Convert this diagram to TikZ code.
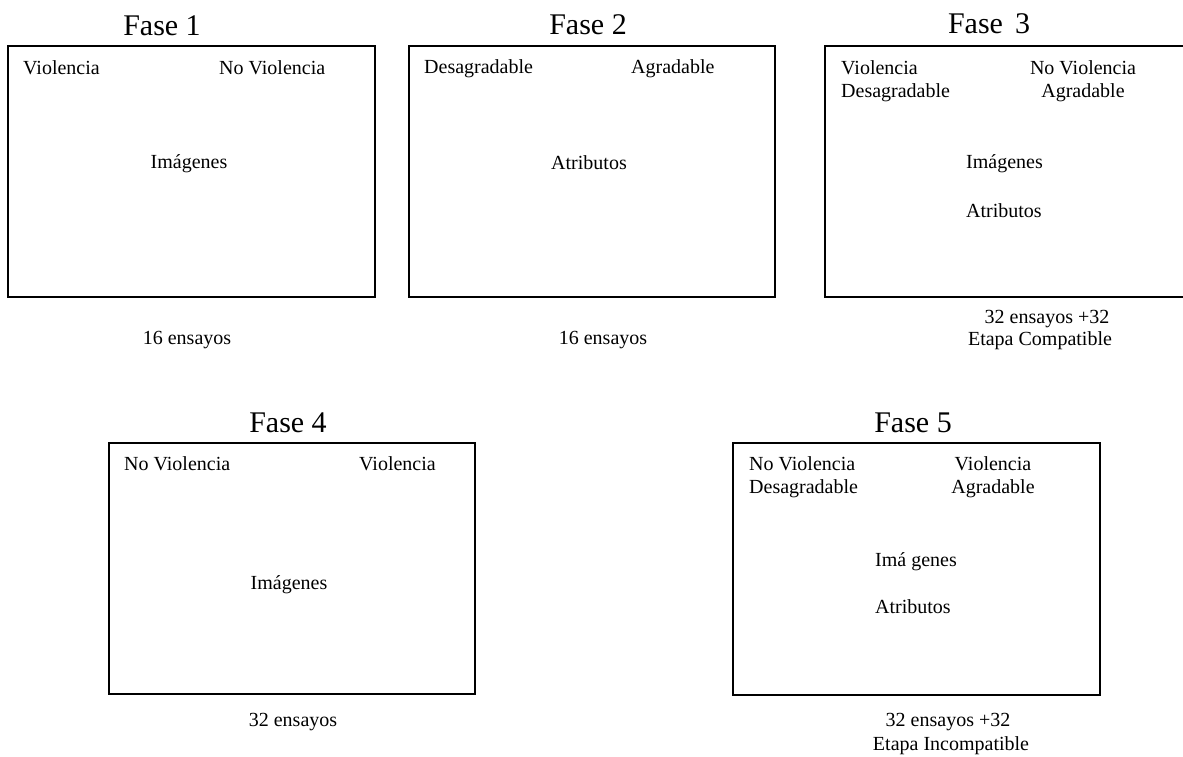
\documentclass[tikz,border=0pt]{standalone}
\usepackage{fontspec}
\setmainfont{Liberation Serif}
\begin{document}
\begin{tikzpicture}[x=1pt,y=-1pt,
  panel/.style={draw, line width=1.8pt, inner sep=0pt, outer sep=0pt, minimum height=251pt},
  lbl/.style={inner sep=0pt, font=\fontsize{20}{24}\selectfont},
  title/.style={inner sep=0pt, font=\fontsize{30}{34}\selectfont, anchor=base}]
\useasboundingbox[fill=white] (0,0) rectangle (1183,756);
\clip (0,0) rectangle (1183,756);
% boxes
\node[panel, minimum width=367pt] (b1) at (191.5,171.5) {};
\node[panel, minimum width=366pt] (b2) at (592,171.5) {};
\node[panel, minimum width=366pt] (b3) at (1008,171.5) {};
\node[panel, minimum width=366pt] (b4) at (292,568.5) {};
\node[panel, minimum width=367pt, minimum height=252pt] (b5) at (916.5,569) {};
% Fase 1
\node[title] (t1) at (162,35) {Fase 1};
\node[lbl, anchor=base west] (b1a) at (23,74) {Violencia};
\node[lbl, anchor=base west] (b1b) at (219,74) {No Violencia};
\node[lbl, anchor=base] (b1c) at (189,168) {Imágenes};
\node[lbl, anchor=base] (b1d) at (187,344) {16 ensayos};
% Fase 2
\node[title] (t2) at (588,34) {Fase 2};
\node[lbl, anchor=base west] (b2a) at (424,73) {Desagradable};
\node[lbl, anchor=base west] (b2b) at (631,73) {Agradable};
\node[lbl, anchor=base] (b2c) at (589,169) {Atributos};
\node[lbl, anchor=base] (b2d) at (603,344) {16 ensayos};
% Fase 3
\node[title] (t3) at (989,33) {Fase\hspace{12pt}3};
\node[lbl, anchor=base west] (b3a) at (841,74) {Violencia};
\node[lbl, anchor=base west] (b3b) at (841,97) {Desagradable};
\node[lbl, anchor=base] (b3c) at (1083,74) {No Violencia};
\node[lbl, anchor=base] (b3d) at (1083,97) {Agradable};
\node[lbl, anchor=base west] (b3e) at (966,168) {Imágenes};
\node[lbl, anchor=base west] (b3f) at (966,217) {Atributos};
\node[lbl, anchor=base] (b3g) at (1047,323) {32 ensayos +32};
\node[lbl, anchor=base] (b3h) at (1040,345) {Etapa Compatible};
% Fase 4
\node[title] (t4) at (288,432) {Fase 4};
\node[lbl, anchor=base west] (b4a) at (124,470) {No Violencia};
\node[lbl, anchor=base west] (b4b) at (359,470) {Violencia};
\node[lbl, anchor=base] (b4c) at (289,589) {Imágenes};
\node[lbl, anchor=base] (b4d) at (293,726) {32 ensayos};
% Fase 5
\node[title] (t5) at (913,432) {Fase 5};
\node[lbl, anchor=base west] (b5a) at (749,470) {No Violencia};
\node[lbl, anchor=base west] (b5b) at (749,493) {Desagradable};
\node[lbl, anchor=base] (b5c) at (993,470) {Violencia};
\node[lbl, anchor=base] (b5d) at (993,493) {Agradable};
\node[lbl, anchor=base west] (b5e) at (875,566) {Imá genes};
\node[lbl, anchor=base west] (b5f) at (875,613) {Atributos};
\node[lbl, anchor=base] (b5g) at (948,726) {32 ensayos +32};
\node[lbl, anchor=base] (b5h) at (951,750) {Etapa Incompatible};
\end{tikzpicture}
\end{document}
